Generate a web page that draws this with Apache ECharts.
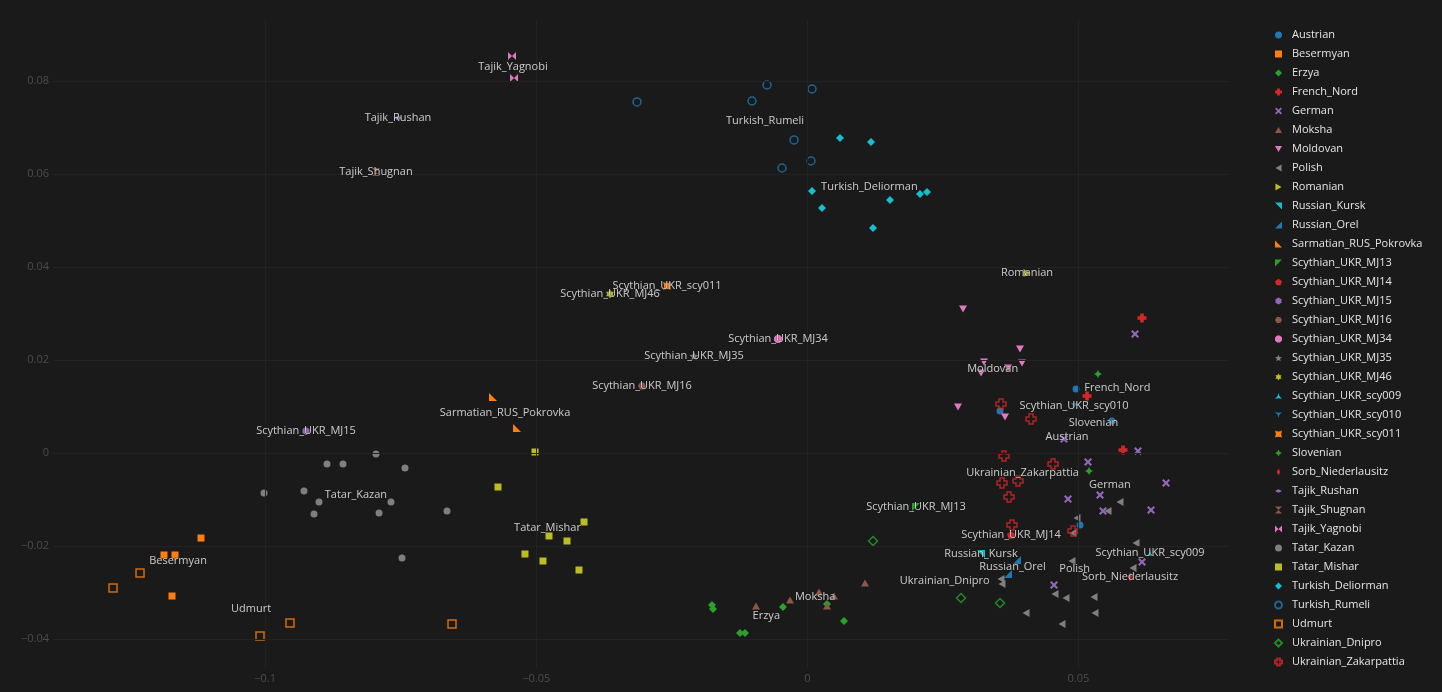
<!DOCTYPE html>
<html><head><meta charset="utf-8">
<script src="https://cdn.jsdelivr.net/npm/echarts@6/dist/echarts.min.js"></script>
<style>html,body{margin:0;padding:0;background:#1a1a1a;}#c{width:1442px;height:692px;}</style>
</head><body><div id="c"></div>
<script>
// ---------------- DATA ----------------
const groupNames = ['Austrian','Besermyan','Erzya','French_Nord','German','Moksha','Moldovan','Polish','Romanian','Russian_Kursk','Russian_Orel','Sarmatian_RUS_Pokrovka','Scythian_UKR_MJ13','Scythian_UKR_MJ14','Scythian_UKR_MJ15','Scythian_UKR_MJ16','Scythian_UKR_MJ34','Scythian_UKR_MJ35','Scythian_UKR_MJ46','Scythian_UKR_scy009','Scythian_UKR_scy010','Scythian_UKR_scy011','Slovenian','Sorb_Niederlausitz','Tajik_Rushan','Tajik_Shugnan','Tajik_Yagnobi','Tatar_Kazan','Tatar_Mishar','Turkish_Deliorman','Turkish_Rumeli','Udmurt','Ukrainian_Dnipro','Ukrainian_Zakarpattia'];

const Austrian = [[0.04956,0.01383],[0.03554,0.00910],[0.05620,0.00695],[0.05030,-0.01542]];
const Besermyan = [[-0.11865,-0.02187],[-0.11662,-0.02187],[-0.11182,-0.01822],[-0.11717,-0.03069]];
const Erzya = [[-0.01758,-0.03262],[-0.01739,-0.03348],[-0.01241,-0.03865],[-0.01149,-0.03865],[-0.00448,-0.03305],[0.00363,-0.03241],[0.00677,-0.03606]];
const French_Nord = [[0.06173,0.02910],[0.05159,0.01232],[0.05823,0.00071]];
const German = [[0.06044,0.02566],[0.06099,0.00049],[0.05177,-0.00187],[0.04734,0.00308],[0.06616,-0.00639],[0.04808,-0.00983],[0.05398,-0.00897],[0.05454,-0.01241],[0.06339,-0.01219],[0.06173,-0.02338],[0.04550,-0.02832]];
const Moksha = [[-0.00946,-0.03284],[-0.00319,-0.03155],[0.00216,-0.02983],[0.00492,-0.03069],[0.00363,-0.03284],[0.01064,-0.02789]];
const Moldovan = [[0.02872,0.03103],[0.03923,0.02243],[0.03259,0.01963],[0.03960,0.01942],[0.03204,0.01727],[0.02779,0.00996],[0.03646,0.00781],[0.03702,0.01834]];
const Polish = [[0.05767,-0.01047],[0.04974,-0.01391],[0.04900,-0.01714],[0.06062,-0.01929],[0.04882,-0.02316],[0.06007,-0.02467],[0.03572,-0.02703],[0.03591,-0.02811],[0.04568,-0.03026],[0.04771,-0.03112],[0.05288,-0.03090],[0.05306,-0.03434],[0.04034,-0.03434],[0.04697,-0.03671],[0.05546,-0.01241]];
const Romanian = [[0.04052,0.03877]];
const Russian_Kursk = [[0.03204,-0.02166]];
const Russian_Orel = [[0.03868,-0.02295],[0.03702,-0.02596]];
const Sarmatian_RUS_Pokrovka = [[-0.05797,0.01211],[-0.05354,0.00544]];
const Scythian_UKR_MJ13 = [[0.02005,-0.01155]];
const Scythian_UKR_MJ14 = [[0.03757,-0.01757]];
const Scythian_UKR_MJ15 = [[-0.09246,0.00480]];
const Scythian_UKR_MJ16 = [[-0.03049,0.01447]];
const Scythian_UKR_MJ34 = [[-0.00540,0.02458]];
const Scythian_UKR_MJ35 = [[-0.02090,0.02092]];
const Scythian_UKR_MJ46 = [[-0.03639,0.03426]];
const Scythian_UKR_scy009 = [[0.06321,-0.02144]];
const Scythian_UKR_scy010 = [[0.04919,0.01017]];
const Scythian_UKR_scy011 = [[-0.02588,0.03598]];
const Slovenian = [[0.05361,0.01705],[0.05196,-0.00381]];
const Sorb_Niederlausitz = [[0.05952,-0.02660]];
const Tajik_Rushan = [[-0.07549,0.07211]];
const Tajik_Shugnan = [[-0.07955,0.06049]];
const Tajik_Yagnobi = [[-0.05446,0.08544],[-0.05409,0.08071]];
const Tatar_Kazan = [[-0.08858,-0.00230],[-0.08563,-0.00230],[-0.07955,-0.00015],[-0.07420,-0.00316],[-0.10020,-0.00854],[-0.09283,-0.00811],[-0.09006,-0.01047],[-0.09098,-0.01305],[-0.07899,-0.01284],[-0.07678,-0.01047],[-0.06645,-0.01241],[-0.07475,-0.02252]];
const Tatar_Mishar = [[-0.05705,-0.00725],[-0.04118,-0.01477],[-0.04764,-0.01778],[-0.04432,-0.01886],[-0.05207,-0.02166],[-0.04875,-0.02316],[-0.04211,-0.02510],[-0.05022,0.00028]];
const Turkish_Deliorman = [[0.00603,0.06781],[0.01175,0.06695],[0.00087,0.05641],[0.00271,0.05275],[0.01525,0.05447],[0.02079,0.05576],[0.02208,0.05619],[0.01212,0.04845]];
const Turkish_Rumeli = [[-0.03141,0.07555],[-0.01020,0.07576],[-0.00743,0.07920],[0.00087,0.07834],[-0.00245,0.06738],[0.00068,0.06286],[-0.00467,0.06135]];
const Udmurt = [[-0.12805,-0.02897],[-0.12307,-0.02574],[-0.10094,-0.03929],[-0.09541,-0.03649],[-0.06553,-0.03671]];
const Ukrainian_Dnipro = [[0.01212,-0.01886],[0.02835,-0.03112],[0.03554,-0.03219]];
const Ukrainian_Zakarpattia = [[0.03572,0.01060],[0.04126,0.00738],[0.03628,-0.00058],[0.04532,-0.00230],[0.03591,-0.00639],[0.03886,-0.00596],[0.03720,-0.00940],[0.03775,-0.01542],[0.04900,-0.01671]];

const xTicks = [-0.1, -0.05, 0, 0.05];
const yTicks = [-0.04, -0.02, 0, 0.02, 0.04, 0.06, 0.08];

// ---------------- STYLE ----------------
const groupData = {Austrian,Besermyan,Erzya,French_Nord,German,Moksha,Moldovan,Polish,Romanian,Russian_Kursk,Russian_Orel,Sarmatian_RUS_Pokrovka,Scythian_UKR_MJ13,Scythian_UKR_MJ14,Scythian_UKR_MJ15,Scythian_UKR_MJ16,Scythian_UKR_MJ34,Scythian_UKR_MJ35,Scythian_UKR_MJ46,Scythian_UKR_scy009,Scythian_UKR_scy010,Scythian_UKR_scy011,Slovenian,Sorb_Niederlausitz,Tajik_Rushan,Tajik_Shugnan,Tajik_Yagnobi,Tatar_Kazan,Tatar_Mishar,Turkish_Deliorman,Turkish_Rumeli,Udmurt,Ukrainian_Dnipro,Ukrainian_Zakarpattia};
const palette = ['#1f77b4','#ff7f0e','#2ca02c','#d62728','#9467bd','#8c564b','#e377c2','#7f7f7f','#bcbd22','#17becf'];

function poly(n, rot){let d='';for(let i=0;i<n;i++){const a=rot+2*Math.PI*i/n;d+=(i?'L':'M')+Math.sin(a).toFixed(3)+','+(-Math.cos(a)).toFixed(3);}return 'path://'+d+'Z';}
function starP(n, r2, rot){let d='';for(let i=0;i<2*n;i++){const r=i%2?r2:1;const a=rot+Math.PI*i/n;d+=(i?'L':'M')+(r*Math.sin(a)).toFixed(3)+','+(-r*Math.cos(a)).toFixed(3);}return 'path://'+d+'Z';}
const SYM = {
  circle:'circle', square:'rect', diamond:'diamond',
  cross:'path://M-1.2,-3H1.2V-1.2H3V1.2H1.2V3H-1.2V1.2H-3V-1.2H-1.2Z',
  x:'path://M-3,-1.9L-1.9,-3L0,-1.1L1.9,-3L3,-1.9L1.1,0L3,1.9L1.9,3L0,1.1L-1.9,3L-3,1.9L-1.1,0Z',
  tup:'path://M0,-2L2,1.5H-2Z', tdown:'path://M0,2L2,-1.5H-2Z',
  tleft:'path://M-2,0L1.5,-2V2Z', tright:'path://M2,0L-1.5,-2V2Z',
  tne:'path://M-2,-2H2V2Z', tse:'path://M2,-2V2H-2Z', tsw:'path://M-2,-2V2H2Z', tnw:'path://M-2,-2H2L-2,2Z',
  pentagon:poly(5,0), hexagon:poly(6,0), hexagon2:poly(6,Math.PI/6), octagon:poly(8,Math.PI/8),
  star:starP(5,0.45,0), hexagram:starP(6,0.6,0),
  sttup:'path://M0,-2Q0.2,0.2 2,1.5Q0,0.6 -2,1.5Q-0.2,0.2 0,-2Z',
  sttdown:'path://M0,2Q0.2,-0.2 2,-1.5Q0,-0.6 -2,-1.5Q-0.2,-0.2 0,2Z',
  stsq:'path://M-2,-2Q0,-1 2,-2Q1,0 2,2Q0,1 -2,2Q-1,0 -2,-2Z',
  stdia:'path://M0,-2Q0.35,-0.35 2,0Q0.35,0.35 0,2Q-0.35,0.35 -2,0Q-0.35,-0.35 0,-2Z',
  dtall:'path://M0,-2L1,0L0,2L-1,0Z', dwide:'path://M-2,0L0,-1L2,0L0,1Z',
  hourglass:'path://M-2,-2H2L-2,2H2Z', bowtie:'path://M-2,-2V2L2,-2V2Z'
};
const symbolSeq = ['circle','square','diamond','cross','x','tup','tdown','tleft','tright','tne','tse','tsw','tnw','pentagon','hexagon','hexagon2','octagon','star','hexagram','sttup','sttdown','stsq','stdia','dtall','dwide','hourglass','bowtie','circle','square','diamond','circle','square','diamond','cross'];
const openFrom = 30; // Turkish_Rumeli onwards are open markers
const sizeOf = {circle:7, square:7, diamond:8, cross:9, x:8, dtall:9, dwide:9, stdia:9, star:9, hexagram:9};

const FONT = '"Open Sans", "DejaVu Sans", sans-serif';
const fmt = v => String(v).replace('-', '\u2212');

const series = [];
series.push({
  type:'scatter', name:'__grid', data:[], z:0, silent:true,
  markLine:{silent:true, symbol:['none','none'], label:{show:false}, animation:false,
    lineStyle:{color:'#222222', width:1, type:'solid'},
    emphasis:{disabled:true},
    data: xTicks.map(v=>({xAxis:v})).concat(yTicks.map(v=>({yAxis:v})))}
});
groupNames.forEach((g,i)=>{
  const c = palette[i%10];
  const open = i>=openFrom;
  const sk = symbolSeq[i];
  series.push({
    type:'scatter', name:g, data:groupData[g],
    symbol: SYM[sk], symbolSize: (sizeOf[sk]||8) + (open?1:0), symbolKeepAspect:true,
    itemStyle: open ? {color:'rgba(0,0,0,0)', borderColor:c, borderWidth:1.5} : {color:c, opacity:1},
    emphasis:{disabled:true}, z:2
  });
});
// group labels at each group's centroid
const labelData = groupNames.map(g=>{
  const pts = groupData[g];
  const cx = pts.reduce((s,p)=>s+p[0],0)/pts.length;
  const cy = pts.reduce((s,p)=>s+p[1],0)/pts.length;
  return {name:g, value:[cx,cy]};
});
series.push({
  type:'scatter', name:'__labels', data:labelData, symbolSize:0, silent:true, z:5,
  label:{show:true, position:'inside', formatter:'{b}', color:'#f5f5f5', fontSize:11, fontFamily:FONT,
    textBorderColor:'rgba(26,26,26,0.6)', textBorderWidth:1}
});

const chart = echarts.init(document.getElementById('c'), null, {renderer:'canvas'});
chart.setOption({
  backgroundColor:'#1a1a1a',
  animation:false,
  textStyle:{fontFamily:FONT},
  grid:{left:53, right:214, top:20, bottom:24, containLabel:false},
  xAxis:{type:'value', min:-0.13912, max:0.07759, splitNumber:5,
    axisLine:{show:false}, axisTick:{show:false}, splitLine:{show:false},
    axisLabel:{color:'#4c4c4c', fontSize:11, fontFamily:FONT, margin:5, showMinLabel:false, showMaxLabel:false, formatter:fmt}},
  yAxis:{type:'value', min:-0.04617, max:0.09318, splitNumber:7,
    axisLine:{show:false}, axisTick:{show:false}, splitLine:{show:false},
    axisLabel:{color:'#4c4c4c', fontSize:11, fontFamily:FONT, margin:4, showMinLabel:false, showMaxLabel:false, formatter:fmt}},
  legend:{orient:'vertical', left:1269, top:23, itemWidth:7, itemHeight:7, itemGap:5,
    data:groupNames, inactiveColor:'#444',
    textStyle:{color:'#e5e5e5', fontSize:11, fontFamily:FONT, lineHeight:14, padding:[0,0,0,5]}},
  series: series
});
</script></body></html>
